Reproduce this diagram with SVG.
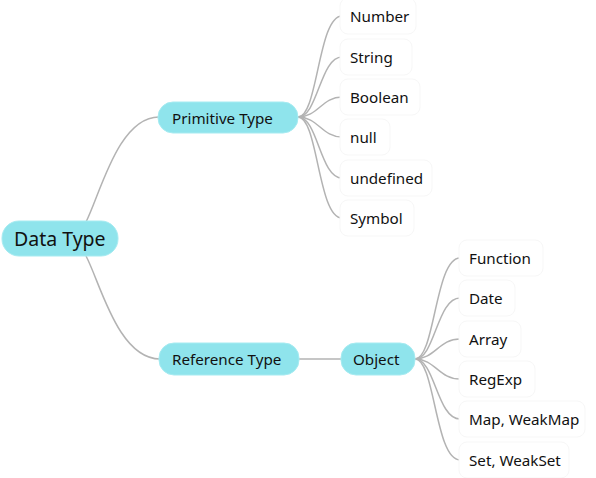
<svg xmlns="http://www.w3.org/2000/svg" width="596" height="478" viewBox="0 0 596 478">
<style>
.node rect.main{fill:#8fe4ec;stroke:#a6ebf1;stroke-width:1}
.leaf rect{fill:#ffffff;stroke:#f7f7f7;stroke-width:1}
text{font-family:"Noto Sans","Liberation Sans",sans-serif;fill:#111111;dominant-baseline:central}
.t1{font-size:19.5px}
.t2{font-size:15.2px}
.t3{font-size:15.2px}
#connectors path{fill:none;stroke:#b3b3b3;stroke-width:1.5}
</style>
<rect width="596" height="478" fill="#ffffff"/>
<g id="connectors">
<path d="M86 222 C100 195,118 117,159 117"/>
<path d="M86 256 C100 282,118 359,160 359"/>
<path d="M299 359 L341 359"/>
<path d="M298 117 C318 117,318 16,342 16"/>
<path d="M298 117 C318 117,320 57,342 57"/>
<path d="M298 117 C318 117,322 97,342 97"/>
<path d="M298 117 C318 117,322 137,342 137"/>
<path d="M298 117 C318 117,320 178,342 178"/>
<path d="M298 117 C318 117,318 218,342 218"/>
<path d="M415 359 C435 359,435 258,460 258"/>
<path d="M415 359 C435 359,437 298,460 298"/>
<path d="M415 359 C435 359,439 339,460 339"/>
<path d="M415 359 C435 359,439 379,460 379"/>
<path d="M415 359 C435 359,437 419,460 419"/>
<path d="M415 359 C435 359,435 460,460 460"/>
</g>
<g id="data-type" class="node"><rect class="main" x="2" y="221" width="116" height="35" rx="17"/><text class="t1" x="14" y="238.5">Data Type</text></g>
<g id="primitive-type" class="node"><rect class="main" x="158" y="102" width="140" height="31" rx="15"/><text class="t2" x="172" y="117.5">Primitive Type</text></g>
<g id="reference-type" class="node"><rect class="main" x="159" y="343" width="140" height="32" rx="15"/><text class="t2" x="172" y="359">Reference Type</text></g>
<g id="object" class="node"><rect class="main" x="341" y="343" width="74" height="32" rx="15"/><text class="t2" x="353" y="359">Object</text></g>
<g id="number" class="leaf"><rect x="340" y="-2" width="76" height="36" rx="8"/><text class="t3" x="350" y="16">Number</text></g>
<g id="string" class="leaf"><rect x="340" y="39" width="72" height="36" rx="8"/><text class="t3" x="350" y="57">String</text></g>
<g id="boolean" class="leaf"><rect x="340" y="79" width="80" height="36" rx="8"/><text class="t3" x="350" y="97">Boolean</text></g>
<g id="null" class="leaf"><rect x="340" y="119" width="50" height="36" rx="8"/><text class="t3" x="350" y="137">null</text></g>
<g id="undefined" class="leaf"><rect x="340" y="160" width="92" height="36" rx="8"/><text class="t3" x="350" y="178">undefined</text></g>
<g id="symbol" class="leaf"><rect x="340" y="200" width="74" height="36" rx="8"/><text class="t3" x="350" y="218">Symbol</text></g>
<g id="function" class="leaf"><rect x="459" y="240" width="84" height="36" rx="8"/><text class="t3" x="469" y="258">Function</text></g>
<g id="date" class="leaf"><rect x="459" y="280" width="56" height="36" rx="8"/><text class="t3" x="469" y="298">Date</text></g>
<g id="array" class="leaf"><rect x="459" y="321" width="62" height="36" rx="8"/><text class="t3" x="469" y="339">Array</text></g>
<g id="regexp" class="leaf"><rect x="459" y="361" width="76" height="36" rx="8"/><text class="t3" x="469" y="379">RegExp</text></g>
<g id="map" class="leaf"><rect x="459" y="401" width="126" height="36" rx="8"/><text class="t3" x="469" y="419">Map, WeakMap</text></g>
<g id="set" class="leaf"><rect x="459" y="442" width="110" height="36" rx="8"/><text class="t3" x="469" y="460">Set, WeakSet</text></g>
</svg>
